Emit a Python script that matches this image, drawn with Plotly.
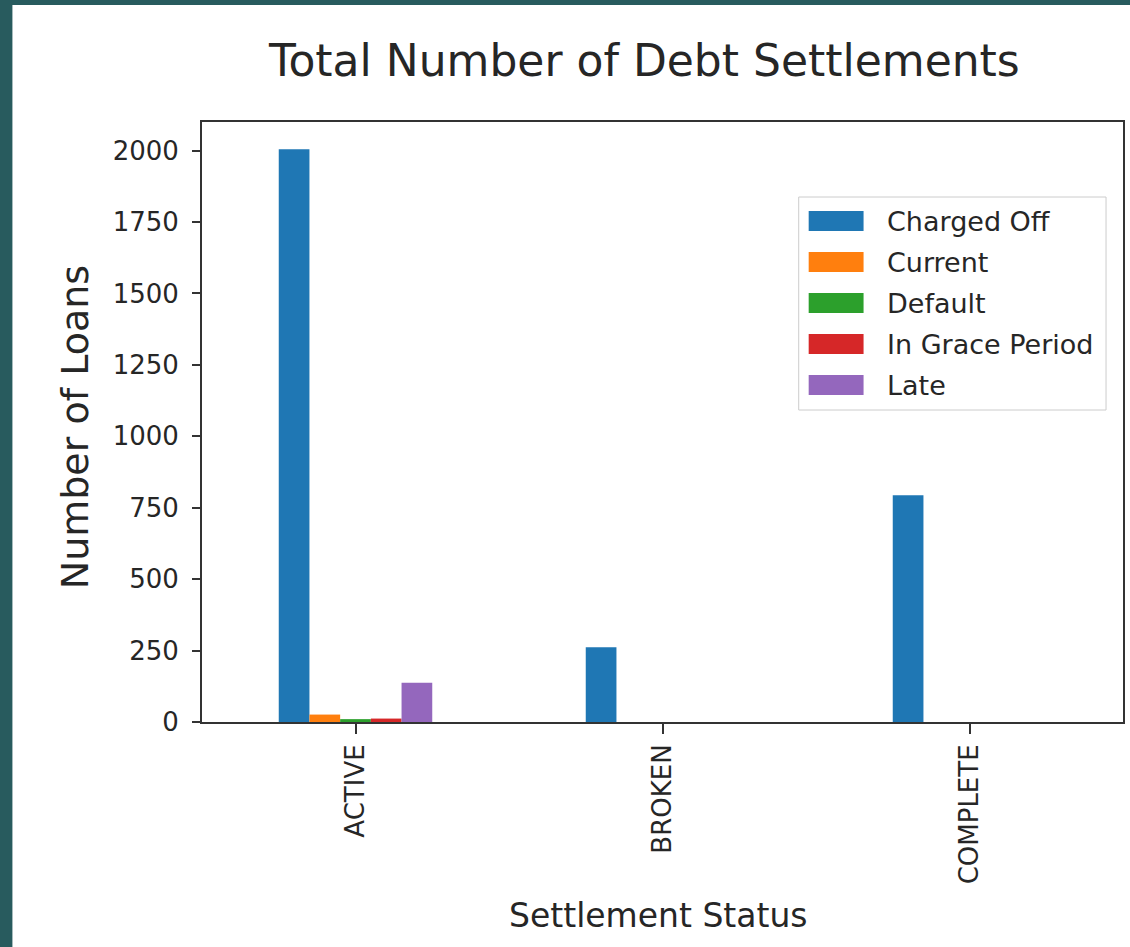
import plotly.graph_objects as go

# settlement status on the x axis, loan status as the series
categories = ["ACTIVE", "BROKEN", "COMPLETE"]
series_names = ["Charged Off", "Current", "Default", "In Grace Period", "Late"]
charged_off = [2005, 262, 794]
current = [26, 0, 0]
default = [10, 0, 0]
in_grace = [12, 0, 0]
late = [137, 0, 0]
series_values = [charged_off, current, default, in_grace, late]
colors = ["#1f77b4", "#ff7f0e", "#2ca02c", "#d62728", "#9467bd"]
y_ticks = [0, 250, 500, 750, 1000, 1250, 1500, 1750, 2000]

W, H = 1130, 947
L, R, T, B = 202, 1125, 122, 722  # plot frame in pixels
FONT = "DejaVu Sans"
TXT = "#262626"


def px(x):
    return (x - L) / (R - L)


def py(y):
    return (B - y) / (B - T)


fig = go.Figure()
for name, vals, col in zip(series_names, series_values, colors):
    fig.add_trace(go.Bar(x=categories, y=vals, name=name, marker=dict(color=col, line=dict(width=0))))

shapes = [
    # white slide card over the teal background
    dict(type="rect", xref="paper", yref="paper", x0=px(12), x1=px(W + 5), y0=py(H + 5), y1=py(5),
         fillcolor="white", line=dict(width=0), layer="below"),
    # legend box
    dict(type="rect", xref="paper", yref="paper", x0=px(800), x1=px(1108), y0=py(410), y1=py(197),
         fillcolor="white", line=dict(color="#cccccc", width=1)),
]
annotations = [
    dict(text="Total Number of Debt Settlements", x=px(645), y=py(60), xref="paper", yref="paper",
         showarrow=False, font=dict(family=FONT, size=44, color=TXT), xanchor="center", yanchor="middle"),
    dict(text="Number of Loans", x=px(75), y=py(427), xref="paper", yref="paper", textangle=-90,
         showarrow=False, font=dict(family=FONT, size=38, color=TXT), xanchor="center", yanchor="middle"),
    dict(text="Settlement Status", x=px(659), y=py(915), xref="paper", yref="paper",
         showarrow=False, font=dict(family=FONT, size=33, color=TXT), xanchor="center", yanchor="middle"),
]
for i, (name, col) in enumerate(zip(series_names, colors)):
    cy = 221 + i * 41
    shapes.append(dict(type="rect", xref="paper", yref="paper", x0=px(810), x1=px(865),
                       y0=py(cy + 10), y1=py(cy - 10), fillcolor=col, line=dict(width=0)))
    annotations.append(dict(text=name, x=px(886), y=py(cy), xref="paper", yref="paper", showarrow=False,
                            font=dict(family=FONT, size=27, color=TXT), xanchor="left", yanchor="middle"))

fig.update_layout(
    width=W, height=H,
    margin=dict(l=L, r=W - R, t=T, b=H - B, pad=0),
    paper_bgcolor="#285b5e", plot_bgcolor="white",
    barmode="group", bargap=0.5, bargroupgap=0,
    showlegend=False,
    shapes=shapes, annotations=annotations,
    font=dict(family=FONT, color=TXT),
)
fig.update_xaxes(range=[-0.5, 2.5], showline=True, mirror=True, linecolor="#333333", linewidth=2,
                 ticks="outside", ticklen=10, tickwidth=2, tickcolor="#333333", tickangle=-90,
                 tickfont=dict(family=FONT, size=26, color=TXT), showgrid=False, zeroline=False)
fig.update_yaxes(range=[0, 2100], tickvals=y_ticks, showline=True, mirror=True, linecolor="#333333",
                 linewidth=2, ticks="outside", ticklen=8, tickwidth=2, tickcolor="#333333",
                 ticklabelstandoff=8,
                 tickfont=dict(family=FONT, size=26, color=TXT), showgrid=False, zeroline=False)

fig.write_html("out.html", config={"displayModeBar": False},
               post_script="document.body.style.margin='0';")
